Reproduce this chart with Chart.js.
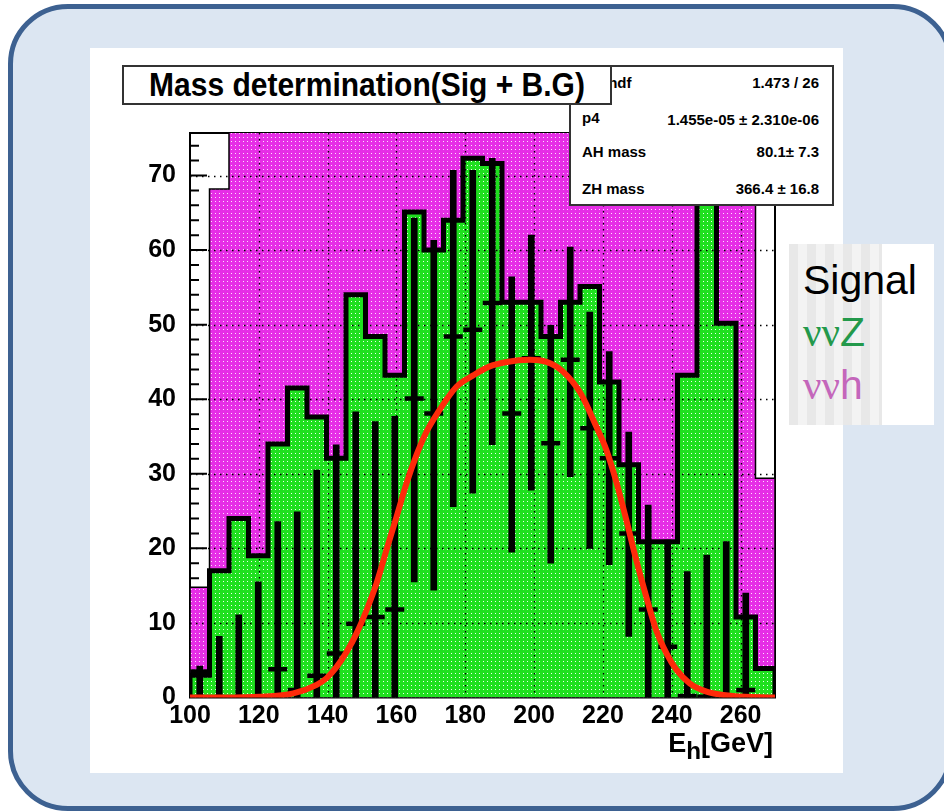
<!DOCTYPE html>
<html>
<head>
<meta charset="utf-8">
<script src="https://cdn.jsdelivr.net/npm/chart.js@4.4.1/dist/chart.umd.min.js"></script>
<style>
  html, body { margin: 0; padding: 0; background: #fff; }
  body { width: 944px; height: 811px; position: relative; overflow: hidden; font-family: "Liberation Sans", Arial, sans-serif; }
  #slide { position: absolute; left: 8px; top: 4px; width: 945px; height: 807px; box-sizing: border-box;
           border: 5px solid #3d6191; border-radius: 60px; background: #dce6f2; }
  #plot { position: absolute; left: 90px; top: 48px; width: 753px; height: 725px; background: #fff; }
  #plot canvas { position: absolute; left: 0; top: 0; }
  #title { position: absolute; left: 122px; top: 65px; width: 490px; height: 40px; box-sizing: border-box;
           border: 2px solid #333; background: #fff; font: bold 30px "Liberation Sans", Arial, sans-serif;
           text-align: center; line-height: 36px; z-index: 3; }
  #title span { display: inline-block; transform: scaleY(1.08); }
  #stats { position: absolute; left: 569px; top: 65px; width: 265px; height: 141px; box-sizing: border-box;
           border: 2px solid #333; background: #fff; z-index: 2; font: bold 15px "Liberation Sans", Arial, sans-serif; }
  #stats .lab { position: absolute; left: 11px; line-height: 18px; }
  #stats .val { position: absolute; right: 13px; line-height: 18px; }
  #xtitle { position: absolute; right: 171px; top: 730px; font: bold 27px "Liberation Sans", Arial, sans-serif; line-height: 27px; }
  #xtitle span { font-size: 0.9em; position: relative; top: 7px; }
  #legend { position: absolute; left: 789px; top: 244px; width: 145px; height: 181px; background: #fff; }
  #legend .stripes { position: absolute; left: 0; top: 0; width: 93px; height: 181px;
           background: repeating-linear-gradient(to right, #e8e8e8 0, #e8e8e8 9px, #f3f3f3 9px, #f3f3f3 18px); }
  #legend div.t { position: absolute; left: 14px; font: 41px "Liberation Sans", Arial, sans-serif; line-height: 41px; white-space: nowrap; }
  #legend .nu { font-family: "Liberation Serif", "DejaVu Serif", serif; }
</style>
</head>
<body>
<div id="slide"></div>
<div id="plot"><canvas id="chart" width="753" height="725"></canvas></div>
<div id="title"><span>Mass determination(Sig + B.G)</span></div>
<div id="stats">
  <div class="lab" style="top:7px">χ² / ndf</div><div class="val" style="top:7px">1.473 / 26</div>
  <div class="lab" style="top:42px">p4</div><div class="val" style="top:44px">1.455e-05 ± 2.310e-06</div>
  <div class="lab" style="top:76px">AH mass</div><div class="val" style="top:76px">80.1± 7.3</div>
  <div class="lab" style="top:113px">ZH mass</div><div class="val" style="top:113px">366.4 ± 16.8</div>
</div>
<div id="xtitle">E<span>h</span>[GeV]</div>
<div id="legend">
  <div class="stripes"></div>
  <div class="t" style="top:16px;color:#000">Signal</div>
  <div class="t" style="top:68px;color:#23994b"><span class="nu">νν</span>Z</div>
  <div class="t" style="top:121px;color:#c466bb"><span class="nu">νν</span>h</div>
</div>
<script>
// histogram binning
const histRange = [100, 270];
const nBins = 30;

// vvZ (green, bottom of the stack), top of each bin
const vvZ = [3, 17, 24, 19, 34, 41.5, 37.6, 32.1, 54, 48.4, 43.2, 65.1, 60, 64, 72.3,
             71.6, 53, 53, 48.4, 53, 55.1, 42.3, 31.2, 20.9, 20.9, 43.2, 80, 50.2, 10.8, 3.9];
// vvh stacked on top (magenta), stack top; 90 = runs off the top of the frame
const vvhTop = [14.8, 68.2, 90, 90, 90, 90, 90, 90, 90, 90, 90, 90, 90, 90, 90,
                90, 90, 90, 90, 90, 90, 90, 90, 90, 90, 90, 90, 90, 90, 29.4];

// signal (background subtracted) points with error bar ends
const sigVal  = [3.5, 0, 0, 0, 3.8, 1, 2.9, 5.9, 9.9, 10.8, 11.8, 40.1, 38.1, 48.4, 49.3,
                 52.9, 38.1, 45.5, 34.1, 45.3, 36.1, 32.1, 22, 11.8, 6.8, 0.2, 0.1, 0, 1, null];
const sigLow  = [0, -8.2, -11, -15.5, -16, -23, -24.7, -22, -18.5, -15.4, -14, 15.5, 14.4, 25.6, 27.4,
                 33.9, 19.5, 27.8, 18, 29.6, 20, 17.8, 8.2, -2, -7.5, -16.5, -19, -21, -12, null];
const sigHigh = [4.2, 8.2, 11.1, 15.5, 23.6, 24.9, 30.5, 33.9, 38.3, 37, 37.7, 64.3, 61.3, 70.7, 70.7,
                 72.3, 56.4, 62, 49.9, 60.4, 51.7, 46.4, 35.6, 25.8, 21.1, 16.9, 19.1, 20.9, 14, null];

// fit curve
const fitE   = [100, 110, 120.3, 130, 136.8, 139.7, 142.6, 145.5, 148.4, 151.3, 154.2, 157.1, 160, 162.9,
                165.8, 168.7, 171.6, 177.5, 182.3, 187.1, 192, 198.7, 203.6, 208.4, 213.5, 218.1, 221,
                223.9, 226.8, 229.7, 232.6, 235.5, 238.5, 241.4, 245.2, 250.1, 257.8, 270];
const fitVal = [0, 0, 0.1, 0.56, 1.7, 2.6, 4.1, 6.1, 8.6, 11.7, 15.3, 19.8, 24.2, 28.7,
                32.5, 35.6, 37.9, 41.7, 43.2, 44.4, 45, 45.3, 45, 43.7, 40.8, 36.3, 33.2,
                28.9, 23.8, 18.4, 13.5, 9, 5.9, 3.7, 1.9, 0.8, 0.2, 0];

const xTickVals = [100, 120, 140, 160, 180, 200, 220, 240, 260];
const yTickVals = [0, 10, 20, 30, 40, 50, 60, 70];
const yMax = 75.7;

const binW = (histRange[1] - histRange[0]) / nBins;
const edges = [];
for (let i = 0; i <= nBins; i++) edges.push(histRange[0] + i * binW);
const centers = edges.slice(0, nBins).map(e => e + binW / 2);

function stepPoints(vals) {
    const pts = [{ x: edges[0], y: 0 }];
    vals.forEach((v, i) => pts.push({ x: edges[i], y: v }));
    pts.push({ x: edges[nBins], y: vals[nBins - 1] });
    pts.push({ x: edges[nBins], y: 0 });
    return pts;
}

function makePattern(ctx, base, dot) {
    const c = document.createElement('canvas');
    c.width = 4; c.height = 4;
    const g = c.getContext('2d');
    g.fillStyle = base; g.fillRect(0, 0, 4, 4);
    g.fillStyle = dot; g.fillRect(1, 1, 1, 1);
    return ctx.createPattern(c, 'repeat');
}

const rootFrame = {
    id: 'rootFrame',
    beforeDatasetsDraw(chart) {
        const { ctx, chartArea: a, scales: { y } } = chart;
        ctx.save();
        ctx.strokeStyle = '#000';
        ctx.lineWidth = 2;
        ctx.strokeRect(a.left, a.top, a.right - a.left, a.bottom - a.top);
        ctx.beginPath();
        for (let v = 2; v < yMax; v += 2) {
            const py = y.getPixelForValue(v);
            ctx.moveTo(a.left, py);
            ctx.lineTo(a.left + (v % 10 === 0 ? 17 : 9), py);
        }
        ctx.stroke();
        ctx.restore();
    },
    afterDatasetDraw(chart, args) {
        if (chart.data.datasets[args.index].label !== 'ννZ') return;
        const { ctx, chartArea: a, scales: { x, y } } = chart;
        ctx.save();
        ctx.strokeStyle = '#000';
        ctx.lineWidth = 1.3;
        ctx.setLineDash([1.5, 4.5]);
        ctx.beginPath();
        xTickVals.slice(1).forEach(v => {
            const px = Math.round(x.getPixelForValue(v)) + 0.5;
            ctx.moveTo(px, a.top); ctx.lineTo(px, a.bottom);
        });
        yTickVals.slice(1).forEach(v => {
            const py = Math.round(y.getPixelForValue(v)) + 0.5;
            ctx.moveTo(a.left, py); ctx.lineTo(a.right, py);
        });
        ctx.stroke();
        ctx.restore();
    }
};

const ctx = document.getElementById('chart').getContext('2d');
const greenFill = makePattern(ctx, '#1fe01f', '#f0fff0');
const pinkFill = makePattern(ctx, '#e62ee6', '#ffe0ff');

const sigPoints = [];
const errBars = [];
centers.forEach((c, i) => {
    if (sigVal[i] === null) return;
    sigPoints.push({ x: c, y: sigVal[i] });
    errBars.push({ x: c, y: [sigLow[i], sigHigh[i]] });
});
const fitPoints = fitE.map((e, i) => ({ x: e, y: fitVal[i] }));

const tickFont = { family: 'Liberation Sans', weight: 'bold', size: 25 };

new Chart(ctx, {
    type: 'line',
    data: {
        datasets: [
            { label: 'fit', data: fitPoints, borderColor: '#ff2a0a', borderWidth: 6, pointRadius: 0,
              cubicInterpolationMode: 'monotone', fill: false, order: 0 },
            { label: 'Signal', data: sigPoints, showLine: false, pointStyle: 'line', pointRadius: 9.5,
              pointBorderWidth: 4.5, pointBorderColor: '#000', pointBackgroundColor: '#000', order: 1 },
            { type: 'bar', label: 'Signal errors', data: errBars, backgroundColor: '#000', borderWidth: 0,
              barThickness: 6, clip: 0, order: 2 },
            { label: 'ννZ', data: stepPoints(vvZ), stepped: true, fill: 'origin', backgroundColor: greenFill,
              borderColor: '#000', borderWidth: 5, pointRadius: 0, clip: 0, order: 3 },
            { label: 'ννh', data: stepPoints(vvhTop), stepped: true, fill: 'origin', backgroundColor: pinkFill,
              borderColor: '#000', borderWidth: 1.5, pointRadius: 0, clip: 0, order: 4 }
        ]
    },
    options: {
        responsive: false,
        animation: false,
        devicePixelRatio: 1,
        events: [],
        layout: { padding: { left: 0, top: 85, right: 68, bottom: 35.5 } },
        plugins: { legend: { display: false }, tooltip: { enabled: false } },
        scales: {
            x: {
                type: 'linear', min: histRange[0], max: histRange[1], offset: false,
                grid: { display: false, offset: false }, border: { display: false },
                afterBuildTicks: s => { s.ticks = xTickVals.map(v => ({ value: v })); },
                afterFit: s => { s.height = 40; },
                ticks: { color: '#000', font: tickFont, padding: -4, maxRotation: 0, autoSkip: false }
            },
            y: {
                type: 'linear', min: 0, max: yMax,
                grid: { display: false }, border: { display: false },
                afterBuildTicks: s => { s.ticks = yTickVals.map(v => ({ value: v })); },
                afterFit: s => { s.width = 100; },
                ticks: { color: '#000', font: tickFont, padding: 6, autoSkip: false }
            }
        }
    },
    plugins: [rootFrame]
});
</script>
</body>
</html>
